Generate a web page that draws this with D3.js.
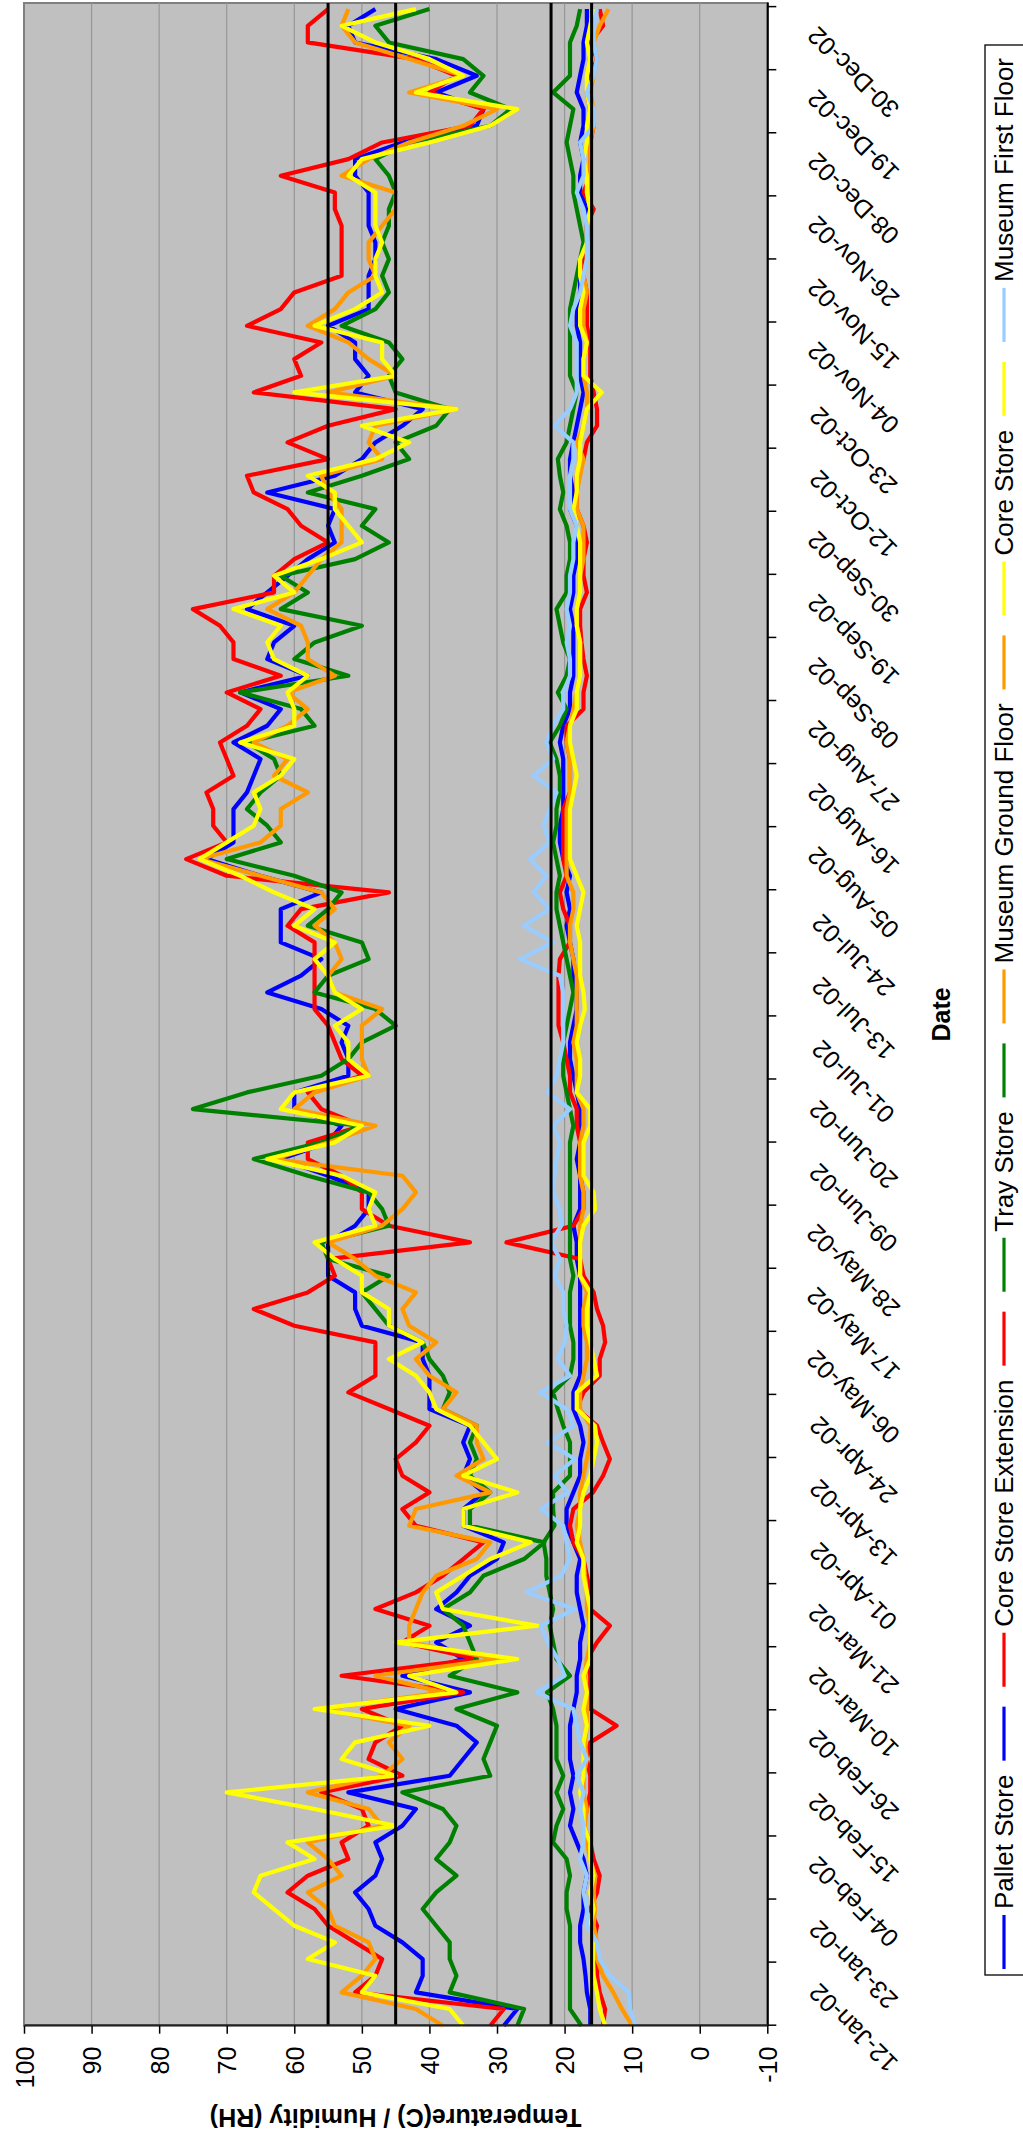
<!DOCTYPE html>
<html>
<head>
<meta charset="utf-8">
<title>Store temperature and humidity, 2002</title>
<script src="https://cdn.jsdelivr.net/npm/d3@7"></script>
<style>
  html, body { margin: 0; padding: 0; background: #fff; }
  svg { display: block; }
  text { font-family: "Liberation Sans", Arial, Helvetica, sans-serif; fill: #000; }
</style>
</head>
<body>
<svg id="chart" width="1023" height="2141"></svg>
<script>
// ---- category axis labels (one every 11.355 days from 12 Jan 2002) ----
const dateLabels = [
  "12-Jan-02","23-Jan-02","04-Feb-02","15-Feb-02","26-Feb-02","10-Mar-02","21-Mar-02","01-Apr-02",
  "13-Apr-02","24-Apr-02","06-May-02","17-May-02","28-May-02","09-Jun-02","20-Jun-02","01-Jul-02",
  "13-Jul-02","24-Jul-02","05-Aug-02","16-Aug-02","27-Aug-02","08-Sep-02","19-Sep-02","30-Sep-02",
  "12-Oct-02","23-Oct-02","04-Nov-02","15-Nov-02","26-Nov-02","08-Dec-02","19-Dec-02","30-Dec-02"
];
const labelStepDays = 11.355;
const axisEndDay = 364.1;
const sampleStepDays = 3;          // readings below are every 3 days from 12 Jan
const valueTicks = [100, 90, 80, 70, 60, 50, 40, 30, 20, 10, 0, -10];
const limitValues = [55, 45, 22, 16]; // RH band 45-55 %, temperature band 16-22 C

// ---- relative humidity (%) ----
const rhPallet = [
  29, 27, 42, 41, 41, 44, 48, 49, 51, 48,
  47, 48, 44, 42, 52, 37, 35, 33, 36, 45,
  34, 44, 35, 39, 34, 39, 36, 34, 30, 29,
  35, 35, 32, 35, 34, 35, 34, 40, 40, 40,
  41, 41, 50, 51, 51, 55, 55, 55, 51, 49,
  49, 55, 62, 55, 53, 60, 60, 52, 52, 53,
  52, 56, 64, 59, 56, 62, 62, 62, 56, 65,
  73, 69, 69, 69, 67, 66, 65, 69, 64, 62,
  68, 58, 64, 63, 60, 67, 64, 61, 58, 54,
  55, 54, 64, 54, 50, 48, 44, 41, 51, 49,
  51, 51, 55, 49, 49, 49, 48, 48, 49, 49,
  49, 51, 51, 44, 33, 32, 39, 33, 39, 51,
  52, 48];
const rhCoreExtension = [
  31, 29, 51, 48, 47, 51, 55, 57, 61, 58,
  52, 53, 49, 50, 56, 44, 49, 48, 44, 50,
  35, 53, 33, 44, 40, 48, 42, 38, 35, 32,
  42, 44, 40, 44, 45, 42, 40, 46, 52, 48,
  48, 48, 60, 66, 58, 54, 55, 34, 46, 50,
  50, 53, 58, 58, 50, 56, 58, 50, 53, 54,
  55, 57, 57, 57, 57, 57, 61, 59, 46, 70,
  76, 70, 72, 72, 73, 69, 70, 71, 67, 65,
  70, 62, 69, 69, 71, 75, 63, 63, 60, 55,
  59, 61, 66, 67, 55, 61, 55, 45, 66, 59,
  60, 56, 67, 62, 60, 53, 53, 53, 53, 54,
  54, 62, 52, 47, 34, 32, 40, 36, 42, 58,
  58, 55];
const rhTray = [
  27, 26, 37, 36, 37, 37, 39, 41, 39, 36,
  39, 37, 36, 38, 44, 31, 32, 31, 30, 36,
  27, 37, 33, 34, 35, 38, 34, 32, 26, 23,
  34, 34, 31, 34, 33, 34, 33, 38, 37, 38,
  40, 41, 46, 48, 50, 46, 55, 56, 46, 47,
  49, 58, 66, 56, 50, 75, 67, 56, 52, 50,
  45, 48, 57, 55, 49, 50, 58, 55, 53, 60,
  70, 62, 64, 67, 65, 62, 63, 67, 57, 59,
  68, 52, 60, 57, 50, 62, 58, 62, 51, 46,
  50, 48, 58, 50, 43, 45, 39, 37, 45, 46,
  44, 46, 53, 48, 46, 47, 46, 47, 46, 46,
  45, 46, 48, 43, 31, 28, 34, 32, 35, 46,
  48, 40];
const rhMuseumGround = [
  38, 42, 53, 50, 48, 49, 54, 55, 58, 53,
  55, 58, 47, 49, 58, 47, 44, 46, 43, 56,
  38, 48, 30, 43, 43, 42, 41, 39, 33, 31,
  43, 42, 31, 36, 32, 33, 33, 38, 36, 40,
  42, 39, 43, 44, 42, 48, 51, 55, 47, 44,
  42, 44, 63, 55, 48, 60, 57, 49, 50, 50,
  50, 47, 54, 55, 53, 54, 57, 54, 56, 65,
  74, 65, 62, 62, 58, 63, 61, 66, 61, 58,
  61, 54, 58, 58, 59, 64, 60, 58, 56, 53,
  53, 53, 55, 56, 47, 49, 48, 36, 55, 45,
  49, 52, 58, 54, 52, 48, 49, 49, 47, 45,
  45, 53, 49, 43, 35, 30, 43, 35, 43, 51,
  53, 52];
const rhCoreStore = [
  35, 37, 50, 48, 58, 54, 60, 63, 66, 65,
  57, 61, 45, 57, 70, 45, 53, 51, 40, 57,
  36, 43, 27, 45, 24, 38, 39, 35, 31, 25,
  35, 35, 27, 35, 30, 32, 34, 39, 40, 42,
  46, 41, 46, 46, 50, 50, 54, 57, 48, 49,
  48, 53, 64, 54, 50, 62, 60, 49, 52, 52,
  54, 50, 54, 55, 57, 54, 60, 57, 63, 68,
  74, 70, 66, 65, 66, 62, 60, 68, 60, 60,
  61, 58, 63, 64, 62, 69, 60, 63, 56, 50,
  52, 54, 54, 58, 48, 43, 50, 36, 60, 45,
  47, 47, 57, 51, 47, 48, 48, 47, 48, 48,
  48, 52, 50, 40, 31, 27, 42, 35, 40, 48,
  53, 42];

// ---- temperature (C) ----
const tPallet = [
  16.2, 16.2, 16.7, 16.9, 17.2, 17.7, 17.7, 17.2, 17.2, 16.7,
  17.2, 18.2, 19.2, 18.7, 19.2, 18.7, 19.2, 19.2, 19.2, 18.7,
  18.2, 18.2, 17.7, 17.7, 17.2, 17.7, 18.2, 18.2, 17.7, 18.7,
  19.7, 19.7, 18.7, 17.7, 17.7, 17.2, 17.7, 18.7, 18.7, 17.7,
  17.7, 17.7, 17.7, 17.7, 17.7, 17.7, 18.2, 18.2, 18.7, 17.7,
  17.7, 17.7, 18.2, 17.7, 17.7, 17.7, 18.2, 18.7, 19.2, 19.2,
  18.7, 18.2, 18.2, 18.7, 18.7, 19.2, 19.7, 19.2, 19.7, 19.2,
  20.2, 20.7, 20.7, 20.2, 20.2, 20.2, 20.2, 20.7, 20.2, 19.2,
  19.2, 18.7, 18.7, 18.7, 18.7, 19.2, 18.7, 18.7, 18.2, 18.2,
  18.2, 19.2, 18.7, 19.2, 19.2, 18.7, 18.2, 17.7, 17.2, 17.7,
  17.7, 17.7, 18.2, 18.2, 17.7, 17.7, 17.2, 16.7, 16.7, 16.7,
  17.7, 17.7, 17.2, 17.7, 17.2, 17.2, 18.2, 17.7, 17.2, 17.2,
  16.7, 16.7];
const tCoreExtension = [
  14.3, 14.0, 14.8, 15.2, 15.2, 15.7, 15.2, 16.2, 15.2, 14.8,
  15.7, 16.2, 17.2, 16.7, 16.2, 16.2, 16.7, 16.2, 12.3, 16.2,
  16.2, 16.2, 16.7, 15.2, 13.3, 16.2, 16.2, 16.7, 17.2, 18.7,
  19.2, 18.7, 15.8, 14.3, 13.3, 14.3, 15.2, 18.2, 17.2, 14.8,
  14.8, 14.0, 14.3, 15.2, 15.7, 17.2, 17.7, 28.6, 18.7, 17.2,
  17.2, 17.7, 17.7, 17.7, 18.2, 18.2, 19.2, 19.2, 19.7, 20.2,
  20.9, 20.9, 20.9, 20.9, 20.7, 19.2, 19.2, 20.2, 20.7, 19.7,
  20.2, 20.2, 20.2, 20.2, 19.2, 19.2, 19.2, 19.7, 19.7, 17.2,
  17.2, 16.7, 17.2, 17.5, 17.7, 17.7, 16.7, 17.2, 17.2, 16.7,
  17.2, 18.2, 18.2, 18.2, 17.2, 16.7, 15.2, 15.2, 15.7, 16.2,
  16.2, 16.2, 16.7, 16.7, 16.7, 17.2, 17.2, 16.7, 16.7, 15.7,
  17.2, 16.2, 16.2, 16.2, 15.7, 16.2, 16.7, 16.2, 15.2, 16.2,
  14.3, 14.8];
const tTray = [
  17.5, 19.2, 19.2, 19.2, 19.2, 19.2, 19.2, 19.7, 19.7, 19.2,
  19.7, 21.7, 21.2, 20.2, 21.2, 20.2, 21.2, 21.2, 21.2, 21.7,
  22.6, 19.2, 21.2, 21.7, 22.2, 21.7, 22.2, 22.7, 22.7, 23.1,
  21.5, 21.7, 21.7, 19.2, 19.2, 19.2, 20.2, 21.0, 21.7, 19.2,
  18.7, 18.7, 19.2, 19.2, 19.2, 18.7, 19.2, 19.2, 19.2, 19.2,
  19.2, 19.2, 19.2, 19.2, 18.7, 19.2, 19.7, 20.2, 20.2, 20.2,
  19.7, 19.2, 18.7, 19.2, 19.7, 20.2, 20.7, 21.2, 21.2, 20.7,
  21.2, 21.7, 21.2, 21.2, 20.7, 20.7, 21.2, 22.2, 20.7, 19.7,
  21.0, 19.7, 19.2, 20.2, 20.7, 21.2, 19.7, 19.7, 19.2, 19.2,
  19.7, 20.7, 20.2, 20.7, 21.0, 19.7, 19.2, 18.7, 18.2, 19.2,
  19.2, 19.2, 19.2, 19.2, 18.7, 18.2, 17.7, 17.2, 17.7, 18.2,
  18.7, 18.7, 19.2, 19.7, 19.2, 18.7, 21.7, 19.2, 19.2, 19.2,
  18.2, 17.7];
const tMuseumGround = [
  10.0, 11.5, 12.8, 14.3, 15.2, 15.2, 15.7, 15.5, 15.7, 15.5,
  16.2, 16.7, 17.0, 16.7, 17.2, 17.2, 16.7, 17.0, 16.7, 16.7,
  16.7, 17.0, 16.7, 16.2, 16.2, 16.7, 16.7, 17.0, 17.2, 17.7,
  18.2, 17.7, 17.7, 17.2, 16.7, 16.2, 16.2, 17.7, 17.7, 17.2,
  16.7, 16.7, 17.2, 17.2, 16.7, 17.7, 17.7, 17.7, 17.7, 17.2,
  17.2, 17.7, 17.7, 17.7, 17.2, 17.2, 18.2, 18.2, 18.2, 18.7,
  18.2, 18.2, 18.2, 18.2, 18.7, 19.2, 19.2, 18.7, 18.7, 19.7,
  19.7, 19.7, 19.7, 19.7, 19.2, 19.2, 19.2, 19.7, 19.2, 18.7,
  18.2, 17.7, 17.7, 17.7, 18.2, 18.2, 17.7, 17.7, 17.2, 17.2,
  17.2, 18.2, 18.2, 17.7, 17.2, 18.2, 17.2, 16.7, 16.7, 17.2,
  17.2, 16.7, 17.2, 17.2, 16.7, 17.2, 16.7, 16.7, 16.2, 16.2,
  16.7, 16.2, 16.2, 16.2, 15.7, 15.7, 16.2, 15.7, 15.2, 15.7,
  14.8, 13.5];
const tCoreStore = [
  14.0, 14.8, 15.2, 15.7, 15.8, 15.7, 16.2, 15.7, 16.2, 15.7,
  16.2, 16.2, 17.2, 17.2, 17.7, 17.2, 17.2, 17.2, 16.7, 17.2,
  16.7, 17.2, 16.2, 16.2, 16.2, 16.2, 16.7, 17.2, 17.2, 18.2,
  17.7, 17.7, 17.2, 16.2, 15.7, 15.2, 15.5, 18.2, 18.2, 15.2,
  15.7, 16.2, 16.7, 16.7, 16.2, 17.7, 17.7, 17.7, 17.2, 15.5,
  15.7, 17.2, 17.2, 17.2, 16.2, 16.2, 18.2, 17.7, 17.7, 18.2,
  17.7, 17.0, 17.2, 17.7, 17.7, 17.7, 18.2, 17.7, 17.2, 18.2,
  19.2, 19.2, 19.2, 19.2, 18.7, 18.2, 18.7, 19.2, 19.2, 18.2,
  18.2, 17.7, 17.7, 17.7, 18.2, 18.2, 17.7, 17.7, 17.7, 17.7,
  18.2, 18.7, 18.2, 18.2, 17.7, 17.7, 17.2, 16.7, 14.5, 17.2,
  17.2, 16.7, 17.7, 17.7, 17.2, 17.7, 17.7, 16.7, 16.7, 16.2,
  16.7, 16.7, 17.2, 16.7, 16.7, 16.2, 16.7, 16.7, 16.2, 16.7,
  16.2, 15.7];
const tMuseumFirst = [
  9.5, 10.3, 10.5, 13.3, 14.8, 15.2, 16.7, 16.7, 17.2, 16.7,
  17.7, 17.2, 17.2, 17.7, 17.2, 18.2, 16.7, 17.7, 18.2, 18.7,
  24.1, 20.0, 21.0, 22.5, 23.5, 18.5, 25.6, 20.5, 19.2, 19.7,
  20.2, 23.5, 19.5, 21.5, 18.5, 22.5, 18.7, 19.7, 23.6, 19.2,
  21.0, 20.0, 19.7, 20.2, 20.2, 21.5, 20.7, 22.0, 20.5, 20.7,
  21.7, 21.5, 21.2, 20.7, 21.7, 19.2, 22.5, 21.2, 20.7, 20.2,
  20.2, 20.2, 20.2, 20.7, 26.6, 21.7, 26.0, 22.2, 24.6, 22.7,
  25.1, 22.2, 23.1, 22.2, 21.2, 24.6, 21.7, 22.7, 21.7, 20.2,
  20.2, 19.2, 19.2, 19.7, 19.2, 19.7, 19.2, 19.2, 18.7, 18.7,
  18.2, 19.2, 19.2, 19.2, 18.7, 18.7, 21.5, 19.2, 18.2, 18.2,
  18.2, 18.2, 19.2, 18.7, 17.7, 17.2, 16.7, 16.7, 16.7, 17.2,
  18.2, 17.2, 17.2, 17.7, 15.7, 15.7, 16.7, 15.7, 15.2, 15.7,
  15.7, 15.2];

// Series in plotting order; the unnamed entries carry the temperature trace of the store above them.
const series = [
  { name: "Pallet Store",         color: "#0000FF", values: rhPallet },
  { name: "",                     color: "#0000FF", values: tPallet },
  { name: "Core Store Extension", color: "#FF0000", values: rhCoreExtension },
  { name: "",                     color: "#FF0000", values: tCoreExtension },
  { name: "Tray Store",           color: "#008000", values: rhTray },
  { name: "",                     color: "#008000", values: tTray },
  { name: "Museum Ground Floor",  color: "#FF9900", values: rhMuseumGround },
  { name: "",                     color: "#FF9900", values: tMuseumGround },
  { name: "Core Store",           color: "#FFFF00", values: rhCoreStore },
  { name: "",                     color: "#FFFF00", values: tCoreStore },
  { name: "Museum First Floor",   color: "#99CCFF", values: tMuseumFirst }
];

// ---- layout: the chart is built landscape and turned a quarter turn anticlockwise ----
const pageW = 1023, pageH = 2141;
const svg = d3.select("#chart");
const root = svg.append("g").attr("transform", `translate(0,${pageH}) rotate(-90)`);

const plot = { left: 115.3, right: 2138, top: 24, bottom: 767.3 };
const x = d3.scaleLinear().domain([0, axisEndDay]).range([plot.left, plot.right]);
const y = d3.scaleLinear().domain([-10, 100]).range([plot.bottom, plot.top]);

// plot area
root.append("rect")
  .attr("x", plot.left).attr("y", plot.top)
  .attr("width", plot.right - plot.left).attr("height", plot.bottom - plot.top)
  .attr("fill", "#C0C0C0").attr("stroke", "#808080").attr("stroke-width", 2);

// major gridlines
root.append("g").selectAll("line")
  .data(valueTicks.filter(v => v < 100 && v > -10))
  .join("line")
  .attr("x1", plot.left).attr("x2", plot.right)
  .attr("y1", d => y(d)).attr("y2", d => y(d))
  .attr("stroke", "#969696").attr("stroke-width", 1.2);

// data traces
const line = d3.line()
  .x((d, i) => x(i * sampleStepDays))
  .y(d => y(d));

root.append("g").selectAll("path")
  .data(series)
  .join("path")
  .attr("d", d => line(d.values))
  .attr("fill", "none")
  .attr("stroke", d => d.color)
  .attr("stroke-width", 4.2)
  .attr("stroke-linejoin", "round");

// recommended limits
root.append("g").selectAll("line")
  .data(limitValues)
  .join("line")
  .attr("x1", plot.left).attr("x2", plot.right)
  .attr("y1", d => y(d)).attr("y2", d => y(d))
  .attr("stroke", "#000").attr("stroke-width", 3);

// category (date) axis
const tickDays = d3.range(dateLabels.length + 1).map(i => i * labelStepDays);
const xAxis = d3.axisBottom(x)
  .tickValues(tickDays)
  .tickSize(9)
  .tickSizeOuter(0)
  .tickFormat((d, i) => dateLabels[i] || "");
const gx = root.append("g")
  .attr("transform", `translate(0,${plot.bottom})`)
  .call(xAxis)
  .attr("font-size", null).attr("font-family", null);
gx.select(".domain").attr("stroke", "#000").attr("stroke-width", 2);
gx.selectAll(".tick line").attr("stroke", "#000").attr("stroke-width", 1.5);
gx.selectAll(".tick text")
  .attr("x", null).attr("y", null).attr("dy", null)
  .attr("text-anchor", "middle")
  .attr("dominant-baseline", "central")
  .attr("transform", "translate(-3,85.7) rotate(-45)")
  .style("font-size", "25px");

// value axis
const yAxis = d3.axisLeft(y)
  .tickValues(valueTicks)
  .tickSize(8)
  .tickSizeOuter(0)
  .tickFormat(d => String(d));
const gy = root.append("g")
  .attr("transform", `translate(${plot.left},0)`)
  .call(yAxis)
  .attr("font-size", null).attr("font-family", null);
gy.select(".domain").attr("stroke", "#222").attr("stroke-width", 2);
gy.selectAll(".tick line").attr("stroke", "#000").attr("stroke-width", 1.5);
gy.selectAll(".tick text")
  .attr("x", -21).attr("dy", null)
  .attr("dominant-baseline", "central")
  .style("font-size", "25px");

// axis titles
root.append("text")
  .attr("transform", `translate(32,${(plot.top + plot.bottom) / 2}) rotate(-90)`)
  .attr("text-anchor", "middle")
  .style("font-size", "25px").style("font-weight", "bold")
  .text("Temperature(C) / Humidity (RH)");
root.append("text")
  .attr("x", (plot.left + plot.right) / 2).attr("y", 950)
  .attr("text-anchor", "middle")
  .style("font-size", "25px").style("font-weight", "bold")
  .text("Date");

// legend
const legend = { left: 166, right: 2096, top: 985, lineY: 1004, textY: 1013 };
const lg = root.append("g");
lg.append("rect")
  .attr("x", legend.left).attr("y", legend.top)
  .attr("width", legend.right - legend.left).attr("height", 90)
  .attr("fill", "#fff").attr("stroke", "#000").attr("stroke-width", 1.3);

const items = lg.selectAll("g.item").data(series).join("g").attr("class", "item");
items.append("line")
  .attr("stroke", d => d.color).attr("stroke-width", 3.2)
  .attr("y1", legend.lineY).attr("y2", legend.lineY);
items.append("text")
  .attr("y", legend.textY)
  .style("font-size", "26px")
  .text(d => d.name);

const markerLen = 54, markerGap = 6, itemGap = 13;
const widths = items.select("text").nodes().map(n => n.getComputedTextLength());
const natural = widths.reduce((s, w) => s + markerLen + markerGap + w, 0) + itemGap * (widths.length - 1);
const extra = (legend.right - 13 - 6 - legend.left - natural) / (widths.length - 1);
let cursor = legend.left + 6;
items.each(function (d, i) {
  const item = d3.select(this);
  item.select("line").attr("x1", cursor).attr("x2", cursor + markerLen);
  item.select("text").attr("x", cursor + markerLen + markerGap);
  cursor += markerLen + markerGap + widths[i] + itemGap + extra;
});
</script>
</body>
</html>
